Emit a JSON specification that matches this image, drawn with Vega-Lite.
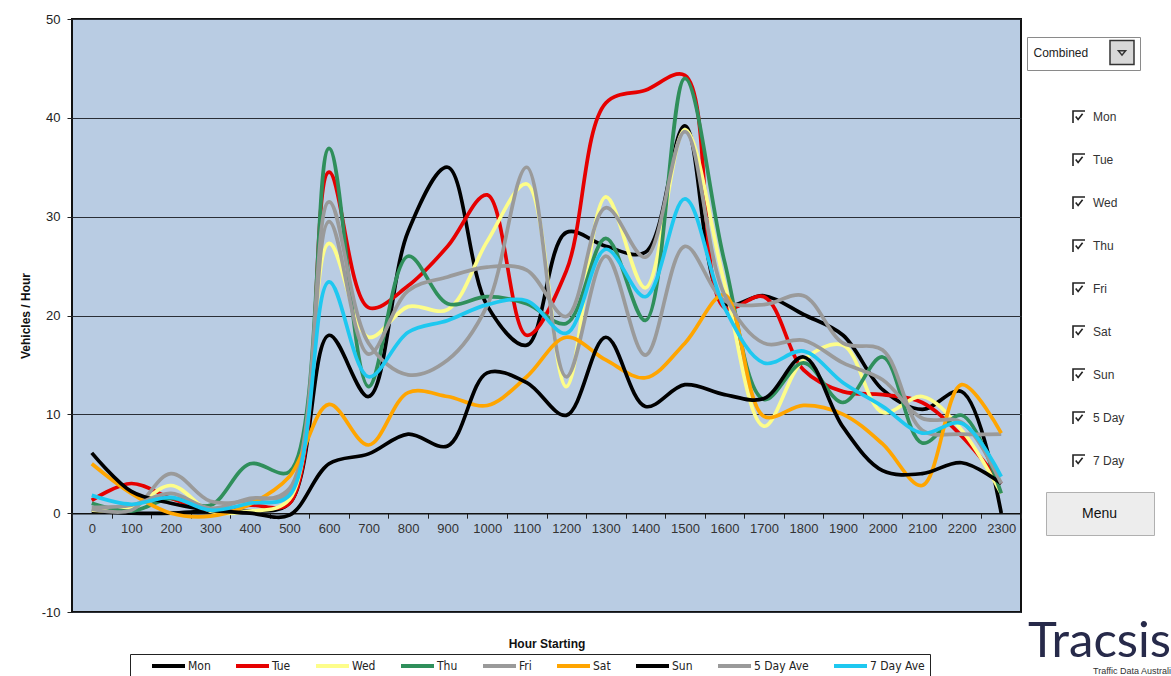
{
  "$schema": "https://vega.github.io/schema/vega-lite/v6.json",
  "width": 949,
  "height": 593,
  "autosize": {"type": "none"},
  "padding": {"left": 72, "top": 19, "right": 150, "bottom": 64},
  "background": "white",
  "view": {"fill": "#b9cce3", "stroke": "#111111", "strokeWidth": 2},
  "config": {"font": "Liberation Sans"},
  "title": {"text": "Tracsis", "subtitle": "Traffic Data Australi", "anchor": "end", "frame": "group", "orient": "top", "offset": 0, "dx": 150, "dy": 663, "font": "Lato", "fontSize": 49, "fontWeight": "normal", "color": "#272a4a", "subtitleFont": "Liberation Sans", "subtitleFontSize": 9, "subtitleColor": "#333333", "subtitlePadding": 0},
  "datasets": {
    "traffic": [
      {"s":"Mon","h":0,"v":0.2},{"s":"Mon","h":100,"v":0},{"s":"Mon","h":200,"v":0},{"s":"Mon","h":300,"v":0.2},{"s":"Mon","h":400,"v":0.2},{"s":"Mon","h":500,"v":1.0},{"s":"Mon","h":600,"v":18.0},{"s":"Mon","h":700,"v":11.8},{"s":"Mon","h":800,"v":28.5},{"s":"Mon","h":900,"v":35.0},{"s":"Mon","h":1000,"v":21.0},{"s":"Mon","h":1100,"v":17.0},{"s":"Mon","h":1200,"v":28.4},{"s":"Mon","h":1300,"v":27.0},{"s":"Mon","h":1400,"v":26.4},{"s":"Mon","h":1500,"v":39.2},{"s":"Mon","h":1600,"v":21.2},{"s":"Mon","h":1700,"v":22.0},{"s":"Mon","h":1800,"v":20.1},{"s":"Mon","h":1900,"v":18.0},{"s":"Mon","h":2000,"v":12.5},{"s":"Mon","h":2100,"v":10.5},{"s":"Mon","h":2200,"v":12.3},{"s":"Mon","h":2300,"v":0},
      {"s":"Tue","h":0,"v":1.3},{"s":"Tue","h":100,"v":3.0},{"s":"Tue","h":200,"v":1.5},{"s":"Tue","h":300,"v":0.3},{"s":"Tue","h":400,"v":0.8},{"s":"Tue","h":500,"v":1.0},{"s":"Tue","h":600,"v":34.5},{"s":"Tue","h":700,"v":20.8},{"s":"Tue","h":800,"v":23.0},{"s":"Tue","h":900,"v":27.0},{"s":"Tue","h":1000,"v":32.2},{"s":"Tue","h":1100,"v":18.0},{"s":"Tue","h":1200,"v":24.5},{"s":"Tue","h":1300,"v":41.5},{"s":"Tue","h":1400,"v":42.8},{"s":"Tue","h":1500,"v":44.3},{"s":"Tue","h":1600,"v":20.8},{"s":"Tue","h":1700,"v":21.9},{"s":"Tue","h":1800,"v":14.5},{"s":"Tue","h":1900,"v":12.3},{"s":"Tue","h":2000,"v":12.0},{"s":"Tue","h":2100,"v":11.2},{"s":"Tue","h":2200,"v":7.8},{"s":"Tue","h":2300,"v":3.0},
      {"s":"Wed","h":0,"v":0.3},{"s":"Wed","h":100,"v":0.5},{"s":"Wed","h":200,"v":2.8},{"s":"Wed","h":300,"v":0.2},{"s":"Wed","h":400,"v":0.2},{"s":"Wed","h":500,"v":1.4},{"s":"Wed","h":600,"v":27.3},{"s":"Wed","h":700,"v":17.8},{"s":"Wed","h":800,"v":20.9},{"s":"Wed","h":900,"v":20.6},{"s":"Wed","h":1000,"v":27.5},{"s":"Wed","h":1100,"v":33.3},{"s":"Wed","h":1200,"v":12.8},{"s":"Wed","h":1300,"v":32.0},{"s":"Wed","h":1400,"v":22.8},{"s":"Wed","h":1500,"v":38.8},{"s":"Wed","h":1600,"v":23.3},{"s":"Wed","h":1700,"v":8.8},{"s":"Wed","h":1800,"v":15.5},{"s":"Wed","h":1900,"v":17.0},{"s":"Wed","h":2000,"v":10.2},{"s":"Wed","h":2100,"v":11.8},{"s":"Wed","h":2200,"v":8.4},{"s":"Wed","h":2300,"v":2.0},
      {"s":"Thu","h":0,"v":1.0},{"s":"Thu","h":100,"v":0.2},{"s":"Thu","h":200,"v":1.5},{"s":"Thu","h":300,"v":0.8},{"s":"Thu","h":400,"v":5.0},{"s":"Thu","h":500,"v":4.2},{"s":"Thu","h":600,"v":36.9},{"s":"Thu","h":700,"v":12.8},{"s":"Thu","h":800,"v":26.0},{"s":"Thu","h":900,"v":21.2},{"s":"Thu","h":1000,"v":21.9},{"s":"Thu","h":1100,"v":21.2},{"s":"Thu","h":1200,"v":19.2},{"s":"Thu","h":1300,"v":27.8},{"s":"Thu","h":1400,"v":19.5},{"s":"Thu","h":1500,"v":44.0},{"s":"Thu","h":1600,"v":25.5},{"s":"Thu","h":1700,"v":11.5},{"s":"Thu","h":1800,"v":15.2},{"s":"Thu","h":1900,"v":11.2},{"s":"Thu","h":2000,"v":15.8},{"s":"Thu","h":2100,"v":7.1},{"s":"Thu","h":2200,"v":9.9},{"s":"Thu","h":2300,"v":2.0},
      {"s":"Fri","h":0,"v":0.4},{"s":"Fri","h":100,"v":0.3},{"s":"Fri","h":200,"v":4.0},{"s":"Fri","h":300,"v":1.2},{"s":"Fri","h":400,"v":1.3},{"s":"Fri","h":500,"v":2.5},{"s":"Fri","h":600,"v":31.5},{"s":"Fri","h":700,"v":17.2},{"s":"Fri","h":800,"v":14.0},{"s":"Fri","h":900,"v":15.5},{"s":"Fri","h":1000,"v":21.0},{"s":"Fri","h":1100,"v":35.0},{"s":"Fri","h":1200,"v":13.8},{"s":"Fri","h":1300,"v":26.0},{"s":"Fri","h":1400,"v":16.0},{"s":"Fri","h":1500,"v":27.0},{"s":"Fri","h":1600,"v":21.5},{"s":"Fri","h":1700,"v":21.1},{"s":"Fri","h":1800,"v":22.0},{"s":"Fri","h":1900,"v":17.2},{"s":"Fri","h":2000,"v":16.5},{"s":"Fri","h":2100,"v":8.4},{"s":"Fri","h":2200,"v":8.0},{"s":"Fri","h":2300,"v":8.0},
      {"s":"Sat","h":0,"v":5.0},{"s":"Sat","h":100,"v":2.0},{"s":"Sat","h":200,"v":0.0},{"s":"Sat","h":300,"v":-0.3},{"s":"Sat","h":400,"v":0.9},{"s":"Sat","h":500,"v":3.7},{"s":"Sat","h":600,"v":11.0},{"s":"Sat","h":700,"v":6.9},{"s":"Sat","h":800,"v":12.2},{"s":"Sat","h":900,"v":11.8},{"s":"Sat","h":1000,"v":10.9},{"s":"Sat","h":1100,"v":13.8},{"s":"Sat","h":1200,"v":17.8},{"s":"Sat","h":1300,"v":15.5},{"s":"Sat","h":1400,"v":13.7},{"s":"Sat","h":1500,"v":17.2},{"s":"Sat","h":1600,"v":22.1},{"s":"Sat","h":1700,"v":9.8},{"s":"Sat","h":1800,"v":10.9},{"s":"Sat","h":1900,"v":10.0},{"s":"Sat","h":2000,"v":7.0},{"s":"Sat","h":2100,"v":2.8},{"s":"Sat","h":2200,"v":13.0},{"s":"Sat","h":2300,"v":8.1},
      {"s":"Sun","h":0,"v":6.1},{"s":"Sun","h":100,"v":2.2},{"s":"Sun","h":200,"v":1.0},{"s":"Sun","h":300,"v":0.3},{"s":"Sun","h":400,"v":0.0},{"s":"Sun","h":500,"v":-0.2},{"s":"Sun","h":600,"v":5.0},{"s":"Sun","h":700,"v":6.0},{"s":"Sun","h":800,"v":8.0},{"s":"Sun","h":900,"v":6.8},{"s":"Sun","h":1000,"v":14.2},{"s":"Sun","h":1100,"v":13.2},{"s":"Sun","h":1200,"v":9.9},{"s":"Sun","h":1300,"v":17.8},{"s":"Sun","h":1400,"v":10.8},{"s":"Sun","h":1500,"v":13.0},{"s":"Sun","h":1600,"v":12.0},{"s":"Sun","h":1700,"v":11.6},{"s":"Sun","h":1800,"v":15.8},{"s":"Sun","h":1900,"v":8.7},{"s":"Sun","h":2000,"v":4.3},{"s":"Sun","h":2100,"v":4.0},{"s":"Sun","h":2200,"v":5.1},{"s":"Sun","h":2300,"v":3.0},
      {"s":"5 Day Ave","h":0,"v":0.6},{"s":"5 Day Ave","h":100,"v":0.8},{"s":"5 Day Ave","h":200,"v":2.0},{"s":"5 Day Ave","h":300,"v":0.5},{"s":"5 Day Ave","h":400,"v":1.5},{"s":"5 Day Ave","h":500,"v":2.1},{"s":"5 Day Ave","h":600,"v":29.5},{"s":"5 Day Ave","h":700,"v":16.1},{"s":"5 Day Ave","h":800,"v":22.5},{"s":"5 Day Ave","h":900,"v":23.9},{"s":"5 Day Ave","h":1000,"v":24.9},{"s":"5 Day Ave","h":1100,"v":24.6},{"s":"5 Day Ave","h":1200,"v":19.9},{"s":"5 Day Ave","h":1300,"v":30.9},{"s":"5 Day Ave","h":1400,"v":25.9},{"s":"5 Day Ave","h":1500,"v":38.6},{"s":"5 Day Ave","h":1600,"v":22.1},{"s":"5 Day Ave","h":1700,"v":17.2},{"s":"5 Day Ave","h":1800,"v":17.5},{"s":"5 Day Ave","h":1900,"v":15.2},{"s":"5 Day Ave","h":2000,"v":13.5},{"s":"5 Day Ave","h":2100,"v":9.6},{"s":"5 Day Ave","h":2200,"v":9.2},{"s":"5 Day Ave","h":2300,"v":3.0},
      {"s":"7 Day Ave","h":0,"v":1.8},{"s":"7 Day Ave","h":100,"v":0.9},{"s":"7 Day Ave","h":200,"v":1.6},{"s":"7 Day Ave","h":300,"v":0.3},{"s":"7 Day Ave","h":400,"v":1.0},{"s":"7 Day Ave","h":500,"v":1.8},{"s":"7 Day Ave","h":600,"v":23.4},{"s":"7 Day Ave","h":700,"v":13.8},{"s":"7 Day Ave","h":800,"v":18.3},{"s":"7 Day Ave","h":900,"v":19.5},{"s":"7 Day Ave","h":1000,"v":21.1},{"s":"7 Day Ave","h":1100,"v":21.5},{"s":"7 Day Ave","h":1200,"v":18.2},{"s":"7 Day Ave","h":1300,"v":26.7},{"s":"7 Day Ave","h":1400,"v":21.9},{"s":"7 Day Ave","h":1500,"v":31.8},{"s":"7 Day Ave","h":1600,"v":20.8},{"s":"7 Day Ave","h":1700,"v":15.2},{"s":"7 Day Ave","h":1800,"v":16.4},{"s":"7 Day Ave","h":1900,"v":13.2},{"s":"7 Day Ave","h":2000,"v":10.8},{"s":"7 Day Ave","h":2100,"v":8.1},{"s":"7 Day Ave","h":2200,"v":9.1},{"s":"7 Day Ave","h":2300,"v":3.7}
    ],
    "boxes": [{"box":"Mon"},{"box":"Tue"},{"box":"Wed"},{"box":"Thu"},{"box":"Fri"},{"box":"Sat"},{"box":"Sun"},{"box":"5 Day"},{"box":"7 Day"}],
    "menu": [{"b":"Menu"}],
    "mode": [{"m":"Combined"}]
  },
  "layer": [
    {
      "data": {"name": "traffic"},
      "mark": {"type": "line", "interpolate": "catmull-rom", "strokeWidth": 3.7},
      "encoding": {
        "x": {"field": "h", "type": "ordinal", "scale": {"type": "band", "paddingInner": 0, "paddingOuter": 0},
          "axis": {"tickBand": "extent", "offset": -98.83, "labelAngle": 0, "labelFontSize": 13, "labelColor": "#333333", "labelPadding": 4, "tickSize": 5, "tickColor": "#222222", "domainColor": "#111111", "domainWidth": 1.5, "grid": false, "title": "Hour Starting", "titleFontSize": 12, "titleFontWeight": "bold", "titleColor": "#111111", "titleY": 130, "titleBaseline": "middle"}},
        "y": {"field": "v", "type": "quantitative", "scale": {"domain": [-10, 50], "nice": false, "zero": false},
          "axis": {"values": [-10, 0, 10, 20, 30, 40, 50], "labelExpr": "replace(datum.label, '\u2212', '-')", "grid": true, "gridColor": "#2a2e36", "gridWidth": 1.2, "domain": false, "tickSize": 5, "tickColor": "#222222", "labelFontSize": 13, "labelColor": "#222222", "labelPadding": 7, "title": "Vehicles / Hour", "titleFontSize": 12, "titleFontWeight": "bold", "titleColor": "#111111", "titlePadding": 9}},
        "color": {"field": "s", "type": "nominal",
          "scale": {"domain": ["Mon","Tue","Wed","Thu","Fri","Sat","Sun","5 Day Ave","7 Day Ave"], "range": ["#000000","#e60000","#fdfd8a","#2f8f5b","#9a9a9a","#ffa500","#000000","#9a9a9a","#1ec8f0"]},
          "legend": {"orient": "none", "legendX": 58, "legendY": 635, "direction": "horizontal", "columns": 9, "columnPadding": 8, "clipHeight": 14, "title": null, "symbolType": "stroke", "symbolSize": 1089, "symbolStrokeWidth": 4, "symbolOffset": 15, "labelOffset": 1, "labelFont": "'Liberation Sans Narrow', 'DejaVu Sans Condensed', 'Liberation Sans', sans-serif", "labelFontSize": 12, "labelColor": "#222222", "padding": 5, "strokeColor": "#222222", "fillColor": "white"}}
      }
    },
    {
      "data": {"name": "boxes"},
      "mark": {"type": "point", "opacity": 0, "filled": false, "color": "#222222"},
      "encoding": {
        "shape": {"field": "box", "type": "nominal",
          "scale": {"domain": ["Mon","Tue","Wed","Thu","Fri","Sat","Sun","5 Day","7 Day"], "range": ["M-1,1L-1,-1L1,-1M-0.55,-0.1L-0.15,0.4L0.6,-0.55","M-1,1L-1,-1L1,-1M-0.55,-0.1L-0.15,0.4L0.6,-0.55","M-1,1L-1,-1L1,-1M-0.55,-0.1L-0.15,0.4L0.6,-0.55","M-1,1L-1,-1L1,-1M-0.55,-0.1L-0.15,0.4L0.6,-0.55","M-1,1L-1,-1L1,-1M-0.55,-0.1L-0.15,0.4L0.6,-0.55","M-1,1L-1,-1L1,-1M-0.55,-0.1L-0.15,0.4L0.6,-0.55","M-1,1L-1,-1L1,-1M-0.55,-0.1L-0.15,0.4L0.6,-0.55","M-1,1L-1,-1L1,-1M-0.55,-0.1L-0.15,0.4L0.6,-0.55","M-1,1L-1,-1L1,-1M-0.55,-0.1L-0.15,0.4L0.6,-0.55"]},
          "legend": {"orient": "none", "legendX": 1000, "legendY": 91, "direction": "vertical", "title": null, "padding": 0, "symbolSize": 144, "symbolStrokeWidth": 1.6, "symbolOpacity": 1, "symbolStrokeColor": "#222222", "labelOffset": 7, "labelFont": "Liberation Sans", "labelFontSize": 12, "labelColor": "#333333", "rowPadding": 23}}
      }
    },
    {
      "data": {"name": "menu"},
      "mark": {"type": "point", "opacity": 0, "filled": true},
      "encoding": {
        "fill": {"field": "b", "type": "nominal", "scale": {"range": ["#ececec"]},
          "legend": {"orient": "none", "legendX": 974, "legendY": 473, "title": null, "padding": 13, "symbolOpacity": 0, "symbolSize": 256, "symbolOffset": 65, "labelOffset": -60, "labelFont": "Liberation Sans", "labelFontSize": 14, "labelColor": "#111111", "fillColor": "#ededed", "strokeColor": "#b0b0b0"}}
      }
    },
    {
      "data": {"name": "mode"},
      "mark": {"type": "point", "opacity": 0, "filled": true, "fill": "#d8d8d8"},
      "encoding": {
        "stroke": {"field": "m", "type": "nominal", "scale": {"range": ["#333333"]},
          "legend": {"orient": "none", "legendX": 955, "legendY": 18, "title": null, "padding": 2.5, "symbolType": "M-1,-1H1V1H-1ZM-0.3,-0.15L0.3,-0.15L0,0.22Z", "symbolSize": 576, "symbolOpacity": 1, "symbolStrokeWidth": 1.5, "symbolOffset": 79.5, "labelOffset": -101.5, "labelFont": "Liberation Sans", "labelFontSize": 12, "labelColor": "#222222", "fillColor": "white", "strokeColor": "#8a8a8a"}}
      }
    }
  ]
}
